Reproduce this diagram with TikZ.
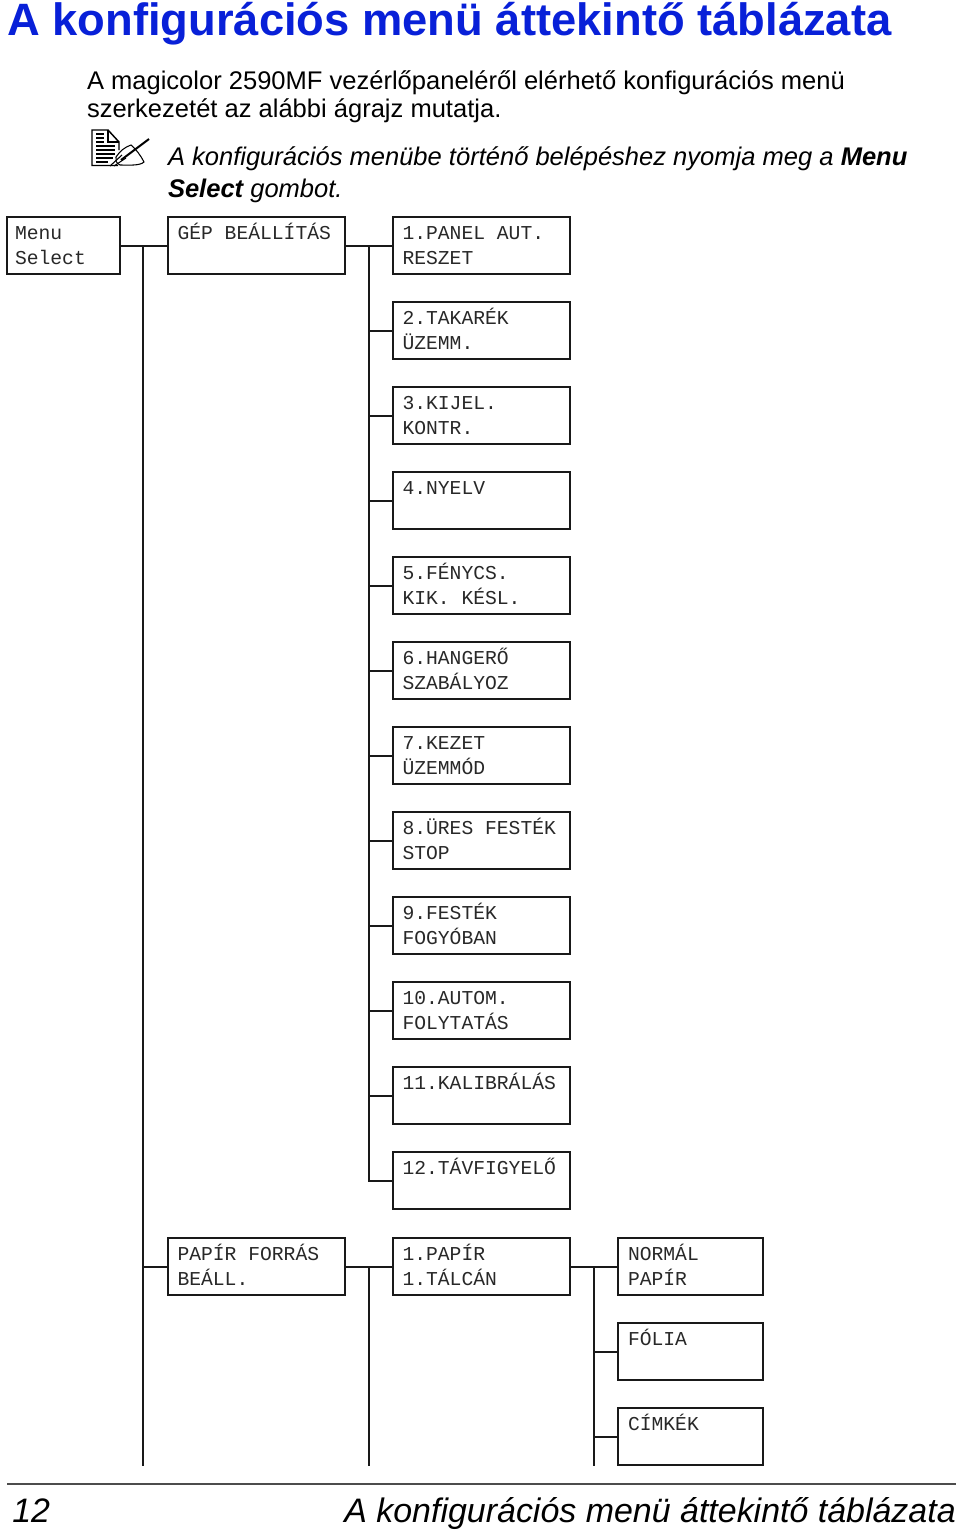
\documentclass[tikz,border=0pt]{standalone}
\usepackage{fontspec}
\setmainfont{Liberation Sans}
\setmonofont{Liberation Mono}
\definecolor{titleblue}{RGB}{8,32,216}
\definecolor{inkgray}{RGB}{40,40,40}
\tikzset{
  x=0.75pt,y=-0.75pt,
  menubox/.style={draw=black!90,line width=1.5pt,fill=white,anchor=north west,minimum height=42.75pt,
    inner xsep=7.5pt,inner ysep=0pt,outer sep=0pt,align=left,text=inkgray,
    font=\ttfamily\fontsize{14.75}{18.75}\selectfont},
  link/.style={draw=black!90,line width=1.5pt},
  rail/.style={draw=black!90,line width=1.5pt},
  bodytxt/.style={anchor=base west,inner sep=0pt,outer sep=0pt,text=black,font=\fontsize{19.15}{24}\selectfont},
  iconln/.style={draw=black,line width=1.1pt},
}
\newcommand{\lns}{\rule[-3pt]{0pt}{15.75pt}}
\newcommand{\msp}{\hspace{8.85pt}}
\newcommand{\bx}[6]{\node[menubox,text width=#4pt-15pt,minimum width=#4pt] (#1) at (#2,#3) {\lns #5\\\lns #6};}
\begin{document}
\begin{tikzpicture}
\useasboundingbox (0,0) rectangle (960,1532);
\node[anchor=base west,inner sep=0pt,text=titleblue,font=\bfseries\fontsize{34}{40}\selectfont] (title) at (7,35) {A konfigurációs menü áttekintő táblázata};
\node[bodytxt] (p1) at (87,89) {A magicolor 2590MF vezérlőpaneléről elérhető konfigurációs menü};
\node[bodytxt] (p2) at (87,117) {szerkezetét az alábbi ágrajz mutatja.};
\node[bodytxt] (n1) at (168,165) {\itshape A konfigurációs menübe történő belépéshez nyomja meg a \bfseries Menu};
\node[bodytxt] (n2) at (168,197) {\itshape\bfseries Select \mdseries gombot.};
% note icon
\draw[iconln] (118,165.5) -- (92,165.5) -- (92,130) -- (108,130) -- (119,142) -- (119,150);
\draw[iconln] (108,130) -- (108,142) -- (119,142);
\foreach \yy/\xa in {134/104,138/104,142/104,146/115,150/115,154/115,158/113,162/108}{\draw[iconln] (96,\yy) -- (\xa,\yy);}
\draw[line width=0.8pt,black,fill=white] (116,157) .. controls (120,151) and (125,147) .. (131,145) .. controls (136,149) and (141,156) .. (144,162) .. controls (140,166) and (128,165) .. (120,165) .. controls (116,163) and (115,160) .. (116,157);
\draw[line width=1.5pt,black] (121,160) -- (149,139);
\draw[line width=0.8pt,black] (110,166) -- (122,155) (114,166) -- (126,158);
% boxes
\bx{menu}{7}{217}{84.5}{\hspace*{-1.5pt}Menu}{\hspace*{-1.5pt}Select}
\bx{gep}{167.5}{217}{133}{GÉP\msp BEÁLLÍTÁS}{}
\bx{a1}{392.5}{217}{133}{1.PANEL\msp AUT.}{RESZET}
\bx{a2}{392.5}{302}{133}{2.TAKARÉK}{ÜZEMM.}
\bx{a3}{392.5}{387}{133}{3.KIJEL.}{KONTR.}
\bx{a4}{392.5}{472}{133}{4.NYELV}{}
\bx{a5}{392.5}{557}{133}{5.FÉNYCS.}{KIK.\msp KÉSL.}
\bx{a6}{392.5}{642}{133}{6.HANGERŐ}{SZABÁLYOZ}
\bx{a7}{392.5}{727}{133}{7.KEZET}{ÜZEMMÓD}
\bx{a8}{392.5}{812}{133}{8.ÜRES\msp FESTÉK}{STOP}
\bx{a9}{392.5}{897}{133}{9.FESTÉK}{FOGYÓBAN}
\bx{a10}{392.5}{982}{133}{10.AUTOM.}{FOLYTATÁS}
\bx{a11}{392.5}{1067}{133}{11.KALIBRÁLÁS}{}
\bx{a12}{392.5}{1152}{133}{12.TÁVFIGYELŐ}{}
\bx{pf}{167.5}{1238}{133}{PAPÍR\msp FORRÁS}{BEÁLL.}
\bx{p1t}{392.5}{1238}{133}{1.PAPÍR}{1.TÁLCÁN}
\bx{t1}{618}{1238}{109}{NORMÁL}{PAPÍR}
\bx{t2}{618}{1323}{109}{FÓLIA}{}
\bx{t3}{618}{1408}{109}{CÍMKÉK}{}
% rails
\coordinate (r1) at (143,1466);
\coordinate (r2) at (369,1466);
\coordinate (r3) at (594,1466);
\coordinate (r2top) at (369,1182);
\draw[link] (menu.east) -- (gep.west);
\draw[link] (gep.east) -- (a1.west);
\draw[rail] (r1 |- menu.east) -- (r1);
\draw[rail] (r2 |- gep.east) -- (r2top);
\foreach \n in {a2,a3,a4,a5,a6,a7,a8,a9,a10,a11,a12}{\draw[link] (r2 |- \n.west) -- (\n.west);}
\draw[link] (r1 |- pf.west) -- (pf.west);
\draw[link] (pf.east) -- (p1t.west);
\draw[rail] (r2 |- pf.east) -- (r2);
\draw[link] (p1t.east) -- (t1.west);
\draw[rail] (r3 |- p1t.east) -- (r3);
\draw[link] (r3 |- t2.west) -- (t2.west);
\draw[link] (r3 |- t3.west) -- (t3.west);
% footer
\coordinate (fa) at (7,1484);
\coordinate (fb) at (956,1484);
\draw[draw=black!70,line width=1.1pt] (fa) -- (fb);
\node[anchor=base west,inner sep=0pt,font=\itshape\fontsize{25.46}{30}\selectfont] (pg) at (12,1522) {12};
\node[anchor=base east,inner sep=0pt,font=\itshape\fontsize{25.46}{30}\selectfont] (ft) at (956,1522) {A konfigurációs menü áttekintő táblázata};
\end{tikzpicture}
\end{document}
